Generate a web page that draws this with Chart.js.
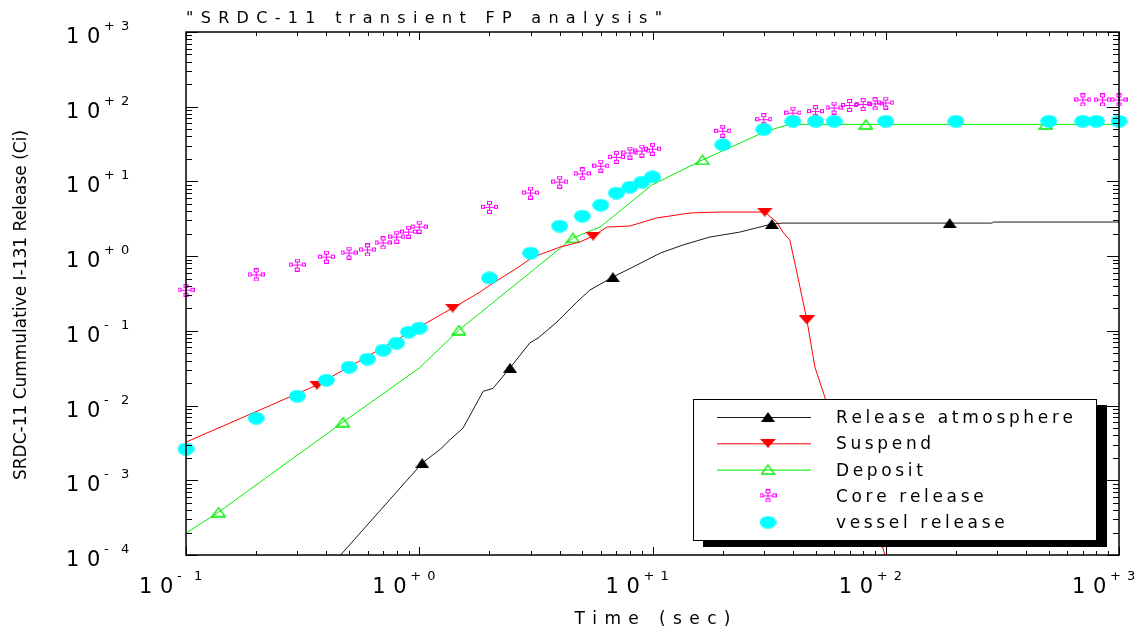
<!DOCTYPE html>
<html lang="en">
<head>
<meta charset="UTF-8">
<title>SRDC-11 transient FP analysis</title>
<script src="https://cdn.jsdelivr.net/npm/chart.js"></script>
<style>
    html, body { margin: 0; padding: 0; background: #ffffff; }
    #wrap { position: relative; width: 1146px; height: 634px; }
</style>
</head>
<body>
<div id="wrap"><canvas id="fpChart"></canvas></div>
<script>
// ---- data (time in sec, release in Ci) ----
const atmTime  = [0.46, 1.03, 1.23, 1.35, 1.54, 1.88, 2.07, 2.45, 2.98, 3.23, 3.89, 4.74, 5.39, 6.76, 8.57, 10.8, 13.5, 17.6, 23.7, 32.5, 36.2, 188, 285, 290, 1000];
const atmValue = [1.0e-4, 1.7e-3, 2.6e-3, 3.45e-3, 5.0e-3, 0.0155, 0.017, 0.032, 0.069, 0.080, 0.131, 0.243, 0.352, 0.525, 0.76, 1.10, 1.41, 1.80, 2.10, 2.69, 2.77, 2.77, 2.77, 2.86, 2.86];
const atmMarkerTime = [1.03, 2.45, 6.76, 32.5, 188];

const suspendTime  = [0.1, 0.364, 1.39, 1.82, 2.01, 2.62, 3.07, 4.01, 4.89, 5.56, 6.38, 8.0, 10.4, 14.5, 18.9, 30.3, 34.1, 36.2, 38.8, 42.0, 45.9, 49.7, 54.8, 63.6, 77.4, 92.5, 96.2, 99.0];
const suspendValue = [3.24e-3, 0.0188, 0.202, 0.330, 0.41, 0.69, 0.97, 1.32, 1.55, 1.86, 2.45, 2.53, 3.24, 3.78, 3.89, 3.89, 2.86, 2.10, 1.64, 0.525, 0.140, 0.0327, 0.013, 2.5e-3, 5.4e-4, 1.85e-4, 1.44e-4, 1.0e-4];
const suspendMarkerTime = [0.364, 1.39, 5.56, 30.3, 45.9, 96.2];

const depositTime  = [0.1, 0.138, 0.471, 1.0, 1.48, 4.56, 5.96, 9.94, 16.4, 30.1, 38.5, 82.2, 486, 1000];
const depositValue = [1.96e-4, 3.75e-4, 6.0e-3, 0.0318, 0.1026, 1.75, 2.45, 8.95, 19.4, 45.8, 58, 58, 58, 58];
const depositMarkerTime = [0.138, 0.471, 1.48, 4.56, 16.4, 82.2, 486];

const coreTime  = [0.1, 0.2, 0.3, 0.4, 0.5, 0.6, 0.7, 0.8, 0.9, 1.0, 2, 3, 4, 5, 6, 7, 8, 9, 10, 20, 30, 40, 50, 60, 70, 80, 90, 100, 700, 850, 1000];
const coreValue = [0.35, 0.56, 0.76, 0.97, 1.10, 1.21, 1.50, 1.80, 2.10, 2.45, 4.5, 7.0, 9.8, 12.6, 16, 21, 24, 25.5, 27, 47, 67, 82, 86, 96, 104, 107, 109, 112, 123, 123, 123];

const vesselTime  = [0.1, 0.2, 0.3, 0.4, 0.5, 0.6, 0.7, 0.8, 0.9, 1.0, 2, 3, 4, 5, 6, 7, 8, 9, 10, 20, 30, 40, 50, 60, 100, 200, 500, 700, 800, 1000];
const vesselValue = [2.62e-3, 6.8e-3, 0.0134, 0.0219, 0.0327, 0.0419, 0.0553, 0.0687, 0.0964, 0.109, 0.51, 1.10, 2.53, 3.44, 4.83, 7.0, 8.4, 9.8, 11.5, 31, 50, 64, 64, 64, 64, 64, 64, 64, 64, 64];

const xTickExps = [-1, 0, 1, 2, 3];
const yTickExps = [-4, -3, -2, -1, 0, 1, 2, 3];

const chartTitle = '"SRDC-11 transient FP analysis"';
const xTitle = 'Time (sec)';
const yTitle = 'SRDC-11 Cummulative I-131 Release (Ci)';

// ---- marker symbols ----
function makeMarker(w, h, paint) {
    const c = document.createElement('canvas');
    c.width = w; c.height = h;
    paint(c.getContext('2d'), w, h);
    return c;
}
const triUpBlack = makeMarker(14, 10, (g, w, h) => {
    g.fillStyle = '#000';
    g.beginPath(); g.moveTo(0, h); g.lineTo(w / 2, 0); g.lineTo(w, h); g.closePath(); g.fill();
});
const triDownRed = makeMarker(16, 9, (g, w, h) => {
    g.fillStyle = '#ff0000';
    g.beginPath(); g.moveTo(0, 0); g.lineTo(w, 0); g.lineTo(w / 2, h); g.closePath(); g.fill();
});
const triUpGreen = makeMarker(15, 11, (g, w, h) => {
    g.strokeStyle = '#00ee00'; g.lineWidth = 1.3;
    g.beginPath(); g.moveTo(1, h - 1); g.lineTo(w / 2, 1); g.lineTo(w - 1, h - 1); g.closePath(); g.stroke();
});
const coreMark = makeMarker(17, 13, (g) => {
    g.strokeStyle = '#ff00ff'; g.lineWidth = 1;
    g.strokeRect(0.5, 4.5, 3, 3);
    g.strokeRect(13.5, 4.5, 3, 3);
    g.strokeRect(6.5, 0.5, 4, 3);
    g.strokeRect(6.5, 9.5, 4, 3);
    g.beginPath();
    g.moveTo(3.5, 6.5); g.lineTo(13.5, 6.5);
    g.moveTo(8.5, 3.5); g.lineTo(8.5, 9.5);
    g.stroke();
});
const vesselMark = makeMarker(17, 13, (g) => {
    g.fillStyle = '#00ffff';
    g.beginPath(); g.ellipse(8.5, 6.5, 8.3, 6.3, 0, 0, Math.PI * 2); g.fill();
});

function pairs(xs, ys) { return xs.map((x, i) => ({ x: x, y: ys[i] })); }
function markedAt(times) { return ctx => (ctx.raw && times.includes(ctx.raw.x)) ? 5 : 0; }

// ---- text helpers ----
function sumWidth(ctx, s) { let w = 0; for (const ch of s) w += ctx.measureText(ch).width; return w; }
function gapFor(ctx, s, target) { return (target - sumWidth(ctx, s)) / (s.length - 1); }
function drawSpaced(ctx, s, x, y, gap) {
    let cx = x;
    for (const ch of s) { ctx.fillText(ch, cx, y); cx += ctx.measureText(ch).width + gap; }
}

function logTicks(min, max) {
    const major = [], minor = [];
    for (let e = Math.floor(Math.log10(min)); e <= Math.ceil(Math.log10(max)); e++) {
        for (let k = 1; k <= 9; k++) {
            const v = k * Math.pow(10, e);
            if (v < min * 0.999 || v > max * 1.001) continue;
            (k === 1 ? major : minor).push(v);
        }
    }
    return { major, minor };
}

function expText(e) { return e >= 0 ? '+' + e : '-' + (-e); }

// frame, inward ticks, labels, titles and boxed legend in the IDL style
const idlFrame = {
    id: 'idlFrame',
    afterDraw(chart) {
        const ctx = chart.ctx;
        const a = chart.chartArea;
        const xs = chart.scales.x, ys = chart.scales.y;
        ctx.save();

        // legend box with shadow
        const bx = a.right - 426, by = a.bottom - 156, bw = 403, bh = 141;
        ctx.fillStyle = '#000';
        ctx.fillRect(bx + 10, by + 6, bw + 1, bh + 1);
        ctx.fillStyle = '#fff';
        ctx.fillRect(bx, by, bw, bh);
        ctx.strokeStyle = '#000'; ctx.lineWidth = 1;
        ctx.strokeRect(bx + 0.5, by + 0.5, bw, bh);

        ctx.font = '17px "DejaVu Sans"';
        ctx.textAlign = 'left'; ctx.textBaseline = 'alphabetic';
        const legendGap = gapFor(ctx, chart.data.datasets[0].label, 237);
        chart.data.datasets.forEach((ds, i) => {
            const ry = by + 18 + i * 26.3;
            if (ds.showLine) {
                ctx.strokeStyle = ds.borderColor; ctx.lineWidth = 1;
                ctx.beginPath(); ctx.moveTo(bx + 24, ry + 0.5); ctx.lineTo(bx + 118, ry + 0.5); ctx.stroke();
            }
            const m = ds.pointStyle;
            ctx.drawImage(m, bx + 75 - m.width / 2, ry - m.height / 2);
            ctx.fillStyle = '#000';
            drawSpaced(ctx, ds.label, bx + 143, ry + 6, legendGap);
        });

        // frame
        ctx.strokeStyle = '#000'; ctx.lineWidth = 1.5;
        ctx.strokeRect(a.left, a.top, a.right - a.left, a.bottom - a.top);

        // ticks
        ctx.lineWidth = 1;
        const xt = logTicks(xs.min, xs.max);
        [[xt.major, 8], [xt.minor, 4]].forEach(([vals, len]) => vals.forEach(v => {
            const px = Math.round(xs.getPixelForValue(v)) + 0.5;
            ctx.beginPath();
            ctx.moveTo(px, a.bottom); ctx.lineTo(px, a.bottom - len);
            ctx.moveTo(px, a.top); ctx.lineTo(px, a.top + len);
            ctx.stroke();
        }));
        const yt = logTicks(ys.min, ys.max);
        [[yt.major, 12], [yt.minor, 6]].forEach(([vals, len]) => vals.forEach(v => {
            const py = Math.round(ys.getPixelForValue(v)) + 0.5;
            ctx.beginPath();
            ctx.moveTo(a.left, py); ctx.lineTo(a.left + len, py);
            ctx.moveTo(a.right, py); ctx.lineTo(a.right - len, py);
            ctx.stroke();
        }));

        // tick labels 10^e
        ctx.fillStyle = '#000';
        function label(x0, base, e) {
            const s = expText(e);
            ctx.font = '21px "DejaVu Sans"';
            ctx.fillText('1', x0, base);
            ctx.fillText('0', x0 + 21, base);
            ctx.font = '13px "DejaVu Sans"';
            ctx.fillText(s[0], x0 + 38, base - 13);
            ctx.fillText(s[1], x0 + 55, base - 13);
        }
        xTickExps.forEach(e => {
            const t = xs.getPixelForValue(Math.pow(10, e));
            label(t - 47, 593, e);
        });
        yTickExps.forEach(e => {
            const t = ys.getPixelForValue(Math.pow(10, e));
            label(66, t + 11, e);
        });

        // chart title
        ctx.font = '16px "DejaVu Sans"';
        drawSpaced(ctx, chartTitle, 186, 23, gapFor(ctx, chartTitle, 476));

        // x title
        ctx.font = '17px "DejaVu Sans"';
        drawSpaced(ctx, xTitle, (a.left + a.right) / 2 - 78, 624, gapFor(ctx, xTitle, 156));

        // y title (condensed)
        ctx.font = '17px "DejaVu Sans"';
        const yw = ctx.measureText(yTitle).width;
        ctx.translate(22, 305);
        ctx.rotate(-Math.PI / 2);
        ctx.scale(350 / yw, 1);
        ctx.textAlign = 'center'; ctx.textBaseline = 'middle';
        ctx.fillText(yTitle, 0, 0);

        ctx.restore();
    }
};

new Chart(document.getElementById('fpChart'), {
    type: 'scatter',
    data: {
        datasets: [
            {
                label: 'Release atmosphere', data: pairs(atmTime, atmValue), showLine: true,
                borderColor: '#1a1a1a', borderWidth: 1, pointStyle: triUpBlack,
                pointRadius: markedAt(atmMarkerTime), order: 2
            },
            {
                label: 'Suspend', data: pairs(suspendTime, suspendValue), showLine: true,
                borderColor: '#ff0000', borderWidth: 1, pointStyle: triDownRed,
                pointRadius: markedAt(suspendMarkerTime), order: 2
            },
            {
                label: 'Deposit', data: pairs(depositTime, depositValue), showLine: true,
                borderColor: '#00ee00', borderWidth: 1, pointStyle: triUpGreen,
                pointRadius: markedAt(depositMarkerTime), order: 2
            },
            {
                label: 'Core release', data: pairs(coreTime, coreValue), showLine: false,
                pointStyle: coreMark, pointRadius: 5, clip: false, order: 1
            },
            {
                label: 'vessel release', data: pairs(vesselTime, vesselValue), showLine: false,
                pointStyle: vesselMark, pointRadius: 5, clip: false, order: 0
            }
        ]
    },
    options: {
        animation: false,
        responsive: true,
        maintainAspectRatio: false,
        events: [],
        layout: { padding: { left: 186, right: 27, top: 32, bottom: 79 } },
        scales: {
            x: { type: 'logarithmic', min: 0.1, max: 1000, display: false },
            y: { type: 'logarithmic', min: 1e-4, max: 1000, display: false }
        },
        plugins: {
            legend: { display: false },
            tooltip: { enabled: false }
        }
    },
    plugins: [idlFrame]
});
</script>
</body>
</html>
